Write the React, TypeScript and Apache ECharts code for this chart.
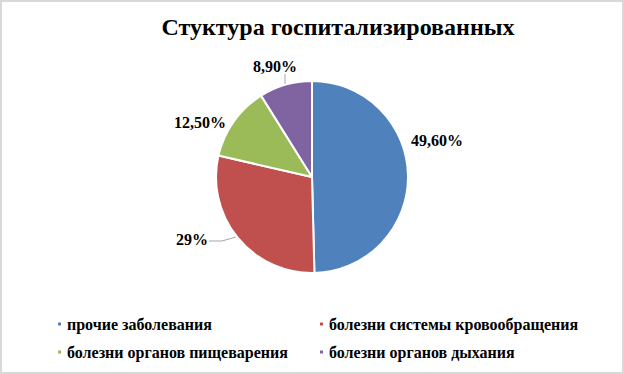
import React, { useEffect, useRef } from "react";
import * as echarts from "echarts";

const categories = [
  "прочие заболевания",
  "болезни системы кровообращения",
  "болезни органов пищеварения",
  "болезни органов дыхания",
];
const values = [49.6, 29, 12.5, 8.9];
const labelTexts = ["49,60%", "29%", "12,50%", "8,90%"];
const colors = ["#4F81BD", "#C0504D", "#9BBB59", "#8064A2"];
const titleText = "Стуктура госпитализированных";

// label placement (Excel-like manual positions)
const labelPos = [
  { x: 437, y: 140, line: null },
  { x: 192, y: 239, line: [[209, 241], [222, 241], [236, 237]] },
  { x: 200, y: 122, line: null },
  { x: 275, y: 66, line: [[285, 74], [285, 85]] },
];

const serif = "Liberation Serif";

export default function App() {
  const ref = useRef<HTMLDivElement>(null);
  useEffect(() => {
    if (!ref.current) return;
    const chart = echarts.init(ref.current, null, { renderer: "svg" });
    const legendText = {
      fontFamily: serif,
      fontWeight: "bold" as const,
      fontSize: 16,
      color: "#000",
      lineHeight: 18,
    };
    const legendBase = {
      orient: "vertical",
      top: 315,
      padding: 0,
      itemWidth: 5,
      itemHeight: 5,
      itemGap: 10,
      icon: "rect",
      textStyle: legendText,
      selectedMode: false,
    };
    chart.setOption({
      animation: false,
      backgroundColor: "#fff",
      title: {
        text: titleText,
        left: 333,
        top: 10,
        padding: 5,
        textAlign: "center",
        textStyle: {
          fontFamily: serif,
          fontWeight: "bold",
          fontSize: 24,
          color: "#000",
        },
      },
      legend: [
        { ...legendBase, data: [categories[0], categories[2]], left: 56 },
        { ...legendBase, data: [categories[1], categories[3]], left: 318 },
      ],
      graphic: [
        {
          type: "rect",
          shape: { x: 1, y: 1, width: 622, height: 372 },
          style: { fill: "none", stroke: "#d9d9d9", lineWidth: 2 },
          silent: true,
        },
      ],
      series: [
        {
          type: "pie",
          center: [312, 177],
          radius: 96,
          startAngle: 90,
          clockwise: true,
          color: colors,
          itemStyle: { borderColor: "#fff", borderWidth: 2 },
          label: {
            show: true,
            position: "outside",
            fontFamily: serif,
            fontWeight: "bold",
            fontSize: 16,
            color: "#000",
            formatter: (p: any) => labelTexts[p.dataIndex],
          },
          labelLine: {
            show: true,
            lineStyle: { color: "#a6a6a6", width: 1 },
          },
          labelLayout: (p: any) => {
            const lp = labelPos[p.dataIndex];
            const res: any = {
              x: lp.x,
              y: lp.y,
              align: "center",
              verticalAlign: "middle",
            };
            if (lp.line) res.labelLinePoints = lp.line;
            return res;
          },
          data: categories.map((c, i) => ({
            name: c,
            value: values[i],
            labelLine: { show: labelPos[i].line !== null },
          })),
        },
      ],
    });
    return () => chart.dispose();
  }, []);
  return (
    <div
      ref={ref}
      style={{ position: "absolute", left: 0, top: 0, width: 624, height: 374 }}
    />
  );
}
